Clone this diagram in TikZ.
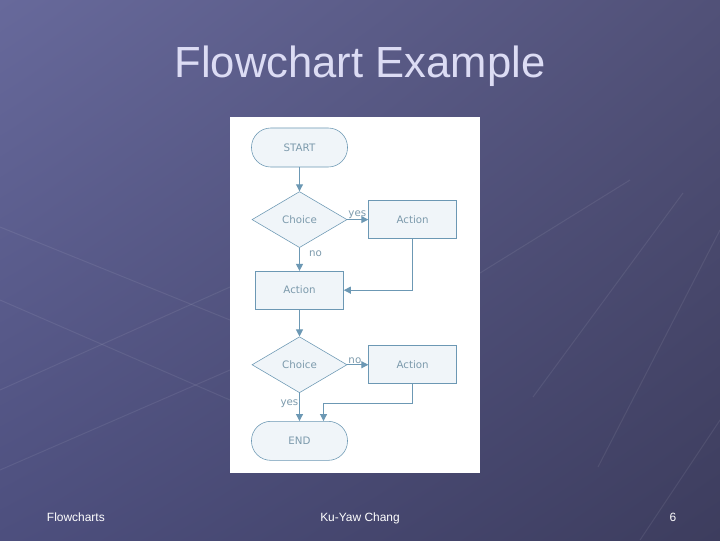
\documentclass[tikz,border=0pt]{standalone}
\usepackage{fontspec}
\setmainfont{Liberation Sans}
\newfontfamily\chartfont{DejaVu Sans}
\usetikzlibrary{shapes.geometric,arrows.meta,positioning,shadings}
\definecolor{slidetl}{HTML}{67699B}
\definecolor{slidetr}{HTML}{515178}
\definecolor{slidebl}{HTML}{4D4F7E}
\definecolor{slidebr}{HTML}{3D3D5E}
\definecolor{titletxt}{HTML}{DCDCF4}
\definecolor{flowline}{HTML}{6C98B4}
\definecolor{flowfill}{HTML}{F0F5F9}
\definecolor{flowtext}{HTML}{7C9AAC}
\tikzset{
  term/.style={rectangle,rounded corners=0.48cm,draw=flowline,fill=flowfill,
               minimum width=2.4cm,minimum height=0.975cm,
               font=\chartfont\fontsize{7.3}{8}\selectfont,text=flowtext},
  choice/.style={diamond,draw=flowline,fill=flowfill,inner sep=0pt,
                 minimum width=2.375cm,minimum height=1.4cm,
                 font=\chartfont\fontsize{7.3}{8}\selectfont,text=flowtext},
  act/.style={rectangle,draw=flowline,fill=flowfill,
              minimum width=2.2cm,minimum height=0.95cm,
              font=\chartfont\fontsize{7.3}{8}\selectfont,text=flowtext},
  arr/.style={-{Triangle[length=5pt,width=5pt]},line width=0.7pt,color=flowline},
  lbl/.style={font=\chartfont\fontsize{7.3}{8}\selectfont,text=flowtext,inner sep=0.5pt},
  bgline/.style={line width=0.7pt,color=white,opacity=0.08},
  foot/.style={font=\fontsize{8.5}{10}\selectfont,text=white,anchor=base},
}

\begin{document}
\begin{tikzpicture}[x=0.025cm,y=-0.025cm]

  %% -- slide background ----------------------------------------------------
  \useasboundingbox (0,0) rectangle (720,540);
  \shade[upper left=slidetl,upper right=slidetr,lower left=slidebl,lower right=slidebr]
    (0,0) rectangle (720,540);

  %% -- background grid (faint) ---------------------------------------------
  \draw[bgline] (0,390) -- (230,287);
  \draw[bgline] (0,470) -- (230,370);
  \draw[bgline] (0,227) -- (230,320);
  \draw[bgline] (0,300) -- (230,400);
  \draw[bgline] (480,273) -- (630,180);
  \draw[bgline] (533,397) -- (683,193);
  \draw[bgline] (598,467) -- (720,230);
  \draw[bgline] (640,540) -- (720,420);

  %% -- titles ---------------------------------------------------------------
  \node[font=\fontsize{31}{36}\selectfont,text=titletxt] (title) at (360,66) {Flowchart Example};
  \node[foot,anchor=base west] (ftl) at (42,521) {Flowcharts};
  \node[foot] (ftc) at (360,521) {Ku-Yaw Chang};
  \node[foot] (ftr) at (673,521) {6};

  %% -- white panel ----------------------------------------------------------
  \fill[white] (230,117) rectangle (480,473);

  %% -- flowchart ------------------------------------------------------------
  \node[term] (start) at (299.5,147.5) {START};
  \node[choice,below=0.6cm of start]  (c1) {Choice};
  \node[act,right=0.525cm of c1]      (a1) {Action};
  \node[act,below=0.575cm of c1]      (am) {Action};
  \node[choice,below=0.675cm of am]   (c2) {Choice};
  \node[act,right=0.525cm of c2]      (a2) {Action};
  \node[term,below=0.7cm of c2]       (end) {END};

  %% -- arrows ---------------------------------------------------------------
  \draw[arr] (start) -- (c1);
  \draw[arr] (c1.east) -- node[lbl,at start,anchor=south west]{yes} (a1.west);
  \draw[arr] (c1.south) -- node[lbl,at start,anchor=north west,xshift=6pt,yshift=-1pt]{no} (am.north);
  \draw[arr] (a1.south) |- (am.east);
  \draw[arr] (am) -- (c2);
  \draw[arr] (c2.east) -- node[lbl,at start,anchor=south west]{no} (a2.west);
  \draw[arr] (c2.south) -- node[lbl,left,pos=0.38]{yes} (end.north);
  \draw[arr] (a2.south) -- ++(0,-0.475cm) -| ([xshift=0.6cm]end.north);

\end{tikzpicture}
\end{document}
